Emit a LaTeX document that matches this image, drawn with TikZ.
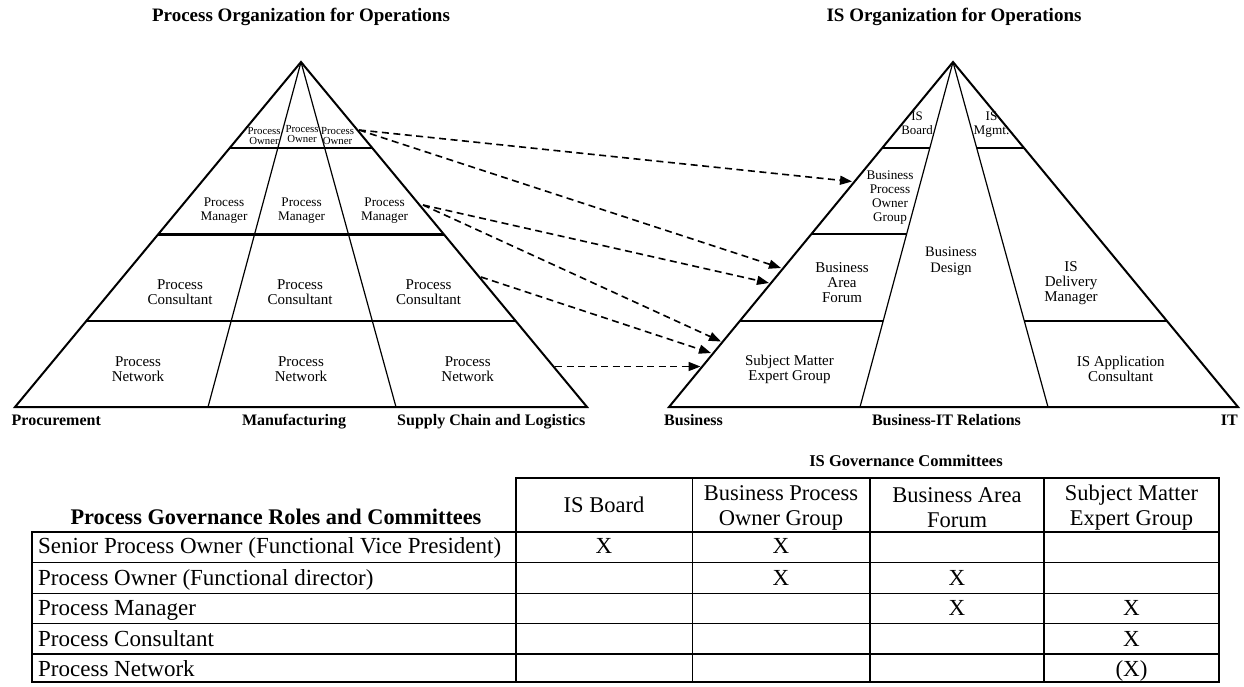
\documentclass[tikz,border=0pt]{standalone}
\usepackage{fontspec}
\setmainfont{Liberation Serif}
\usetikzlibrary{arrows.meta,calc}
\newcommand\fsz[2]{\fontsize{#1}{#2}\selectfont}
\begin{document}
\begin{tikzpicture}[x=1pt,y=-1pt,
  edge/.style={line width=2pt, line join=miter},
  innerline/.style={line width=1.2pt},
  hl/.style={line width=2.4pt},
  arr/.style={line width=1.6pt, dash pattern=on 7pt off 4.5pt, -{Triangle[length=12pt,width=9pt]}},
  lbl/.style={inner sep=0pt, align=center},
  tiny/.style={lbl, font=\fsz{10.8}{10}},
  small/.style={lbl, font=\fsz{13.2}{13.5}},
  mid/.style={lbl, font=\fsz{15}{15}},
  title/.style={inner sep=0pt, font=\bfseries\fsz{19}{20}},
  foot/.style={inner sep=0pt, font=\bfseries\fsz{16}{17}},
  thead/.style={lbl, font=\fsz{22.5}{25}},
  tcell/.style={inner sep=0pt, font=\fsz{23}{24}},
  thick3/.style={line width=2.6pt, line join=miter},
  thin1/.style={line width=1.3pt},
]
\useasboundingbox (0,0) rectangle (1244,686);

% ---------- titles ----------
\node[title] (t1) at (301,17) {Process Organization for Operations};
\node[title] (t2) at (954,17) {IS Organization for Operations};

% ---------- left pyramid ----------
\coordinate (LA) at (301,62);
\coordinate (LBL) at (15,407);
\coordinate (LBR) at (587,407);
\coordinate (LM1) at (208,407);
\coordinate (LM2) at (396,407);
\draw[innerline] (LA) -- (LM1);
\draw[innerline] (LA) -- (LM2);
\foreach \t in {0.2493,0.5,0.7507}
  \draw[hl] ($(LA)!\t!(LBL)$) -- ($(LA)!\t!(LBR)$);
\draw[edge] (LBL) -- (LA) -- (LBR) -- cycle;

\node[tiny] (po1) at (264,136) {Process\\Owner};
\node[tiny] (po2) at (302,134.5) {Process\\Owner};
\node[tiny] (po3) at (337.5,136) {Process\\Owner};
\node[small] (pm1) at (224,210.5) {Process\\Manager};
\node[small] (pm2) at (301.6,210.5) {Process\\Manager};
\node[small] (pm3) at (384.6,210.5) {Process\\Manager};
\node[mid] (pc1) at (180,292.5) {Process\\Consultant};
\node[mid] (pc2) at (300,292.5) {Process\\Consultant};
\node[mid] (pc3) at (428.6,292.5) {Process\\Consultant};
\node[mid] (pn1) at (138,369) {Process\\Network};
\node[mid] (pn2) at (301,369) {Process\\Network};
\node[mid] (pn3) at (467.7,369) {Process\\Network};

\node[foot, anchor=base west] (f1) at (11.5,425) {Procurement};
\node[foot, anchor=base] (f2) at (294,425) {Manufacturing};
\node[foot, anchor=base east] (f3) at (585.5,425) {Supply Chain and Logistics};

% ---------- right pyramid ----------
\coordinate (RA) at (953,62);
\coordinate (RBL) at (669,407);
\coordinate (RBR) at (1238,407);
\coordinate (RM1) at (860,407);
\coordinate (RM2) at (1048,407);
\draw[innerline] (RA) -- (RM1);
\draw[innerline] (RA) -- (RM2);
\foreach \t in {0.2493,0.4986,0.7507}
  \draw[hl] ($(RA)!\t!(RBL)$) -- ($(RA)!\t!(RM1)$);
\foreach \t in {0.2493,0.7507}
  \draw[hl] ($(RA)!\t!(RM2)$) -- ($(RA)!\t!(RBR)$);
\draw[edge] (RBL) -- (RA) -- (RBR) -- cycle;

\node[lbl, font=\fsz{12.9}{14}] (isb) at (917,123) {IS\\Board};
\node[lbl, font=\fsz{13.2}{14}] (ism) at (991.5,125) {IS\\Mgmt.};
\node[lbl, font=\fsz{13.2}{13.8}] (bpog) at (890,197.5) {Business\\Process\\Owner\\Group};
\node[mid] (baf) at (842,283) {Business\\Area\\Forum};
\node[lbl, font=\fsz{14.5}{16}] (bd) at (951,261) {Business\\Design};
\node[mid] (isd) at (1071,283) {IS\\Delivery\\Manager};
\node[mid] (smeg) at (789.5,369) {Subject Matter\\Expert Group};
\node[mid] (isa) at (1120.7,369) {IS Application\\Consultant};

\node[foot, anchor=base west] (f4) at (664,425) {Business};
\node[foot, anchor=base] (f5) at (946.5,425) {Business-IT Relations};
\node[foot, anchor=base east] (f6) at (1238,425) {IT};

% ---------- dashed connectors ----------
\coordinate (sPO) at (359,130);
\coordinate (sPM) at (423,205);
\coordinate (sPC) at (481,277);
\coordinate (sPN) at (555,366.5);
\coordinate (eBPOG) at (852,181.5);
\coordinate (eBAF1) at (781,268);
\coordinate (eBAF2) at (769,283);
\coordinate (eSME1) at (721,341.5);
\coordinate (eSME2) at (711,353);
\coordinate (eSME3) at (700.5,366.5);
\draw[arr] (sPO) -- (eBPOG);
\draw[arr] (sPO) -- (eBAF1);
\draw[arr] (sPM) -- (eBAF2);
\draw[arr] (sPM) -- (eSME1);
\draw[arr] (sPC) -- (eSME2);
\draw[arr] (sPN) -- (eSME3);

% ---------- table ----------
\node[inner sep=0pt, font=\bfseries\fsz{16.5}{18}] (isgc) at (906,461) {IS Governance Committees};
\node[inner sep=0pt, font=\bfseries\fsz{22.3}{24}, anchor=base] (pgrc) at (276,524) {Process Governance Roles and Committees};

\foreach \y in {562.7,593.3,623.3,654}
  \draw[thin1] (32,\y) -- (1219,\y);
\foreach \x in {692.5,870,1044}
  \draw[thin1] (\x,478) -- (\x,682);
\draw[line width=2pt] (516,532) -- (1219,532);
\draw[thick3] (516,478) -- (516,682);
\draw[thick3] (32,532) -- (516,532) -- (516,478) -- (1219,478) -- (1219,682) -- (32,682) -- cycle;

\node[thead, anchor=base] (h1) at (604,512) {IS Board};
\node[thead] (h2) at (781,507.5) {Business Process\\Owner Group};
\node[thead] (h3) at (957,507.5) {Business Area\\Forum};
\node[thead] (h4) at (1131.5,507.5) {Subject Matter\\Expert Group};

\node[tcell, anchor=base west] (r1) at (38,553) {Senior Process Owner (Functional Vice President)};
\node[tcell, anchor=base west] (r2) at (38,585) {Process Owner (Functional director)};
\node[tcell, anchor=base west] (r3) at (38,615.5) {Process Manager};
\node[tcell, anchor=base west] (r4) at (38,646) {Process Consultant};
\node[tcell, anchor=base west] (r5) at (38,676) {Process Network};

\node[tcell, anchor=base] (x11) at (604,553) {X};
\node[tcell, anchor=base] (x12) at (781,553) {X};
\node[tcell, anchor=base] (x22) at (781,585) {X};
\node[tcell, anchor=base] (x23) at (957,585) {X};
\node[tcell, anchor=base] (x33) at (957,615.5) {X};
\node[tcell, anchor=base] (x34) at (1131.5,615.5) {X};
\node[tcell, anchor=base] (x44) at (1131.5,646) {X};
\node[tcell, anchor=base] (x54) at (1131.5,676) {(X)};
\end{tikzpicture}
\end{document}
